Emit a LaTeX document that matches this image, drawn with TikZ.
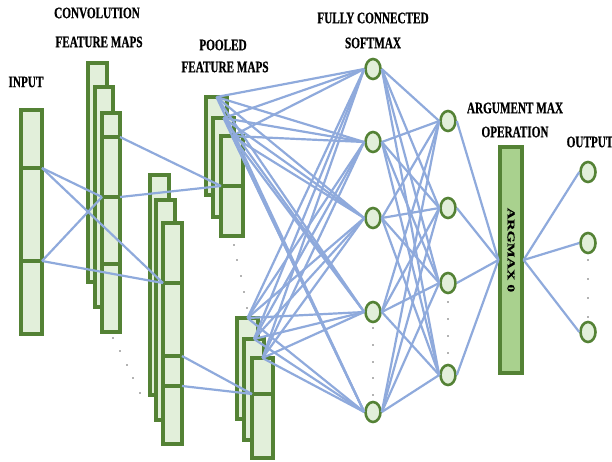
\documentclass[tikz,border=0pt]{standalone}
\usepackage{fontspec}
\setmainfont{Liberation Serif}
\newfontfamily\labfont[FakeStretch=0.7, UprightFont={* Bold}, FakeBold=0.6]{Liberation Serif}
\newfontfamily\argfont[FakeStretch=1.5, UprightFont={* Bold}, FakeBold=0.6]{Liberation Serif}
\usetikzlibrary{shapes.geometric,fit}
\definecolor{gborder}{HTML}{548235}
\definecolor{gfill}{HTML}{E2EFDA}
\definecolor{gdark}{HTML}{A9D18E}
\definecolor{blink}{HTML}{8FAADC}
\newcommand\fmapbox[5]{\path (#2,#3) coordinate (#1-a) (#4,#5) coordinate (#1-b);
  \node[fmap, fit=(#1-a)(#1-b)] (#1) {};}
\begin{document}
\begin{tikzpicture}[x=1pt,y=-1pt,
  fmap/.style={draw=gborder, fill=gfill, line width=3.2pt, inner sep=0pt, outer sep=0pt},
  divider/.style={draw=gborder, line width=3.2pt},
  neuron/.style={ellipse, draw=gborder, fill=gfill, line width=2.6pt, minimum width=15pt, minimum height=20pt, inner sep=0pt},
  link/.style={draw=blink, line width=2.2pt},
  lab/.style={font=\labfont\fontsize{16}{16}\selectfont, inner sep=0pt, text=black},
  dotp/.style={fill=black!60, circle, inner sep=0pt, minimum size=1.8pt}
]
\useasboundingbox (0,0) rectangle (612,461);

% labels
\node[lab] (tin) at (26,82) {INPUT};
\node[lab] (tconv1) at (97,13) {CONVOLUTION};
\node[lab] (tconv2) at (99,42) {FEATURE MAPS};
\node[lab] (tpool1) at (223,45) {POOLED};
\node[lab] (tpool2) at (225,67) {FEATURE MAPS};
\node[lab] (tfc1) at (373,18) {FULLY CONNECTED};
\node[lab] (tfc2) at (373,43) {SOFTMAX};
\node[lab] (targ1) at (515,108) {ARGUMENT MAX};
\node[lab] (targ2) at (515,132) {OPERATION};
\node[lab] (tout) at (590,142) {OUTPUT};

% input
\fmapbox{in}{21}{110}{42}{334}
\draw[divider] (21,168) -- (42,168);
\draw[divider] (21,261) -- (42,261);

% convolution feature maps
\fmapbox{A}{88}{63}{107}{282}
\fmapbox{B}{95}{87}{113}{307}
\fmapbox{C}{102}{113}{120}{332}
\draw[divider] (102,137) -- (120,137);
\draw[divider] (102,197) -- (120,197);
\draw[divider] (102,264) -- (120,264);
\fmapbox{D}{150}{175}{169}{395}
\fmapbox{E}{156}{200}{175}{420}
\fmapbox{F}{163}{223}{182}{444}
\draw[divider] (163,283) -- (182,283);
\draw[divider] (163,356) -- (182,356);
\draw[divider] (163,386) -- (182,386);

% pooled feature maps
\fmapbox{G}{206}{97}{227}{195}
\fmapbox{H}{213}{118}{234}{217}
\fmapbox{I}{221}{136}{243}{236}
\draw[divider] (221,186) -- (243,186);
\fmapbox{J}{237}{318}{258}{419}
\fmapbox{K}{244}{339}{264}{440}
\fmapbox{L}{252}{358}{273}{458}
\draw[divider] (252,394) -- (273,394);

% dots
\foreach \x/\y [count=\i] in {113/338,120/351,127/365,133/378,140/393}
  \node[dotp] (dc\i) at (\x,\y) {};
\foreach \x/\y [count=\i] in {234/245,237/260,241/276,244/292,247/308}
  \node[dotp] (dp\i) at (\x,\y) {};
\foreach \y [count=\i] in {328,345,362,378,395}
  \node[dotp] (da\i) at (373,\y) {};
\foreach \y [count=\i] in {302,319,336,353}
  \node[dotp] (db\i) at (448,\y) {};
\foreach \y [count=\i] in {260,279,298,317}
  \node[dotp] (do\i) at (588,\y) {};

% neurons
\foreach \y [count=\i] in {69,142,218,312,412}
  \node[neuron] (fa\i) at (373,\y) {};
\foreach \y [count=\i] in {121,208,283,375}
  \node[neuron] (fb\i) at (448,\y) {};
\foreach \y [count=\i] in {172,243,332}
  \node[neuron] (out\i) at (588,\y) {};

% argmax
\node[draw=gborder, fill=gdark, line width=3.2pt, minimum width=22pt, minimum height=226pt, inner sep=0pt] (arg) at (511,260) {};
\node[rotate=-90, font=\argfont\fontsize{10.5}{10.5}\selectfont, inner sep=0pt] (argtext) at (511,250) {ARGMAX 0};

% connection points
\coordinate (in1) at (42,168);
\coordinate (in2) at (42,261);
\coordinate (cL) at (102,197);
\coordinate (cR1) at (120,137);
\coordinate (cR2) at (120,197);
\coordinate (fL) at (163,283);
\coordinate (fR1) at (182,356);
\coordinate (fR2) at (182,386);
\coordinate (iL) at (221,186);
\coordinate (lL) at (252,394);

% links
\draw[link] (in1) -- (cL);
\draw[link] (in1) -- (fL);
\draw[link] (in2) -- (cL);
\draw[link] (in2) -- (fL);
\draw[link] (cR1) -- (iL);
\draw[link] (cR2) -- (iL);
\draw[link] (fR1) -- (lL);
\draw[link] (fR2) -- (lL);
\foreach \p in {G,H,I,J,K,L}
  \foreach \q in {1,...,5}
    \draw[link] (\p.north) -- (fa\q.west);
\foreach \p in {1,...,5}
  \foreach \q in {1,...,4}
    \draw[link] (fa\p.east) -- (fb\q.west);
\foreach \q in {1,...,4}
  \draw[link] (fb\q.east) -- (arg.west);
\foreach \q in {1,...,3}
  \draw[link] (arg.east) -- (out\q.west);
\end{tikzpicture}
\end{document}
